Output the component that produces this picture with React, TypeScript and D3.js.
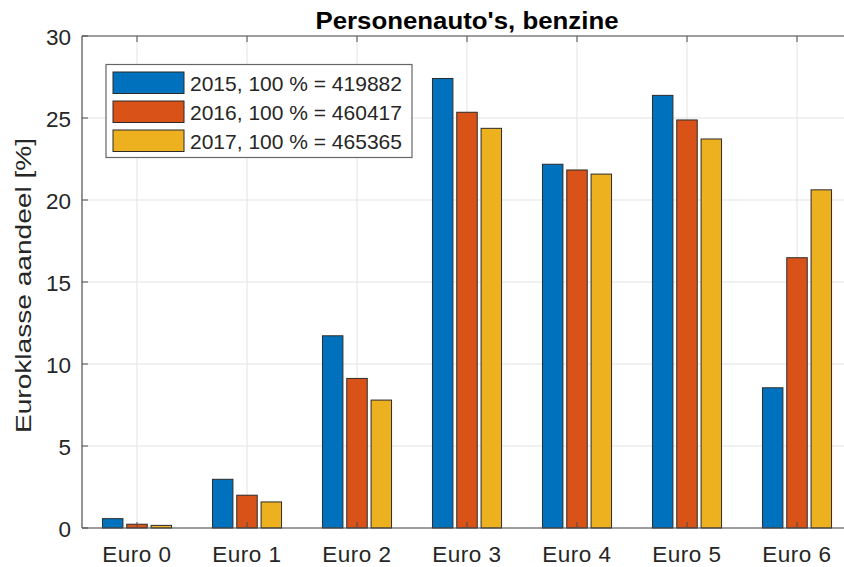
import React from "react";
import * as d3 from "d3";

const categories = ["Euro 0", "Euro 1", "Euro 2", "Euro 3", "Euro 4", "Euro 5", "Euro 6"];
const years = ["2015", "2016", "2017"];
const totals = [419882, 460417, 465365];
const values2015 = [0.57, 2.97, 11.72, 27.41, 22.18, 26.38, 8.55];
const values2016 = [0.23, 2.0, 9.12, 25.35, 21.83, 24.88, 16.48];
const values2017 = [0.16, 1.59, 7.8, 24.37, 21.58, 23.72, 20.62];
const yTicks = [0, 5, 10, 15, 20, 25, 30];
const colors = ["#0072BD", "#D95319", "#EDB120"];

const W = 844;
const H = 567;
const M = { left: 82, top: 36, bottom: 528, right: 852 };

export default function App() {
  const series = [values2015, values2016, values2017];
  const x = d3.scaleLinear().domain([0.5, 7.5]).range([M.left, M.right]);
  const y = d3.scaleLinear().domain([0, 30]).range([M.bottom, M.top]);
  const inner = d3.scalePoint<string>().domain(years).range([-0.221, 0.221]);
  const bw = x(0.186) - x(0);
  const axisColor = "#4d4d4d";
  const font = "'Liberation Sans', Arial, Helvetica, sans-serif";
  const tick = 6;

  return (
    <svg
      width={W}
      height={H}
      style={{ position: "absolute", left: 0, top: 0, background: "#fff" }}
      fontFamily={font}
    >
      <rect x={0} y={0} width={W} height={H} fill="#fff" />
      {/* grid */}
      {categories.map((c, i) => (
        <line key={"gx" + c} x1={x(i + 1)} x2={x(i + 1)} y1={M.top} y2={M.bottom} stroke="#e3e3e3" strokeWidth={1} />
      ))}
      {yTicks.map((t) => (
        <line key={"gy" + t} x1={M.left} x2={M.right} y1={y(t)} y2={y(t)} stroke="#e3e3e3" strokeWidth={1} />
      ))}
      {/* bars */}
      {series.map((vals, s) =>
        vals.map((v, i) => {
          const cx = x(i + 1 + (inner(years[s]) as number));
          return (
            <rect
              key={s + "-" + i}
              x={cx - bw / 2}
              y={y(v)}
              width={bw}
              height={y(0) - y(v)}
              fill={colors[s]}
              stroke="#2b2b2b"
              strokeWidth={1}
            />
          );
        })
      )}
      {/* axes box */}
      <line x1={M.left} x2={M.right} y1={M.top} y2={M.top} stroke={axisColor} strokeWidth={1.2} />
      <line x1={M.left} x2={M.right} y1={M.bottom} y2={M.bottom} stroke={axisColor} strokeWidth={1.2} />
      <line x1={M.left} x2={M.left} y1={M.top} y2={M.bottom} stroke={axisColor} strokeWidth={1.2} />
      <line x1={M.right} x2={M.right} y1={M.top} y2={M.bottom} stroke={axisColor} strokeWidth={1.2} />
      {/* x ticks */}
      {categories.map((c, i) => (
        <g key={"xt" + c}>
          <line x1={x(i + 1)} x2={x(i + 1)} y1={M.bottom} y2={M.bottom - tick} stroke={axisColor} strokeWidth={1} />
          <line x1={x(i + 1)} x2={x(i + 1)} y1={M.top} y2={M.top + tick} stroke={axisColor} strokeWidth={1} />
          <text x={x(i + 1)} y={561.5} textAnchor="middle" fontSize={22.5} letterSpacing={0.5} fill="#262626">
            {c}
          </text>
        </g>
      ))}
      {/* y ticks */}
      {yTicks.map((t) => (
        <g key={"yt" + t}>
          <line x1={M.left} x2={M.left + tick} y1={y(t)} y2={y(t)} stroke={axisColor} strokeWidth={1} />
          <line x1={M.right} x2={M.right - tick} y1={y(t)} y2={y(t)} stroke={axisColor} strokeWidth={1} />
          <text x={M.left - 11} y={y(t) + 8.5} textAnchor="end" fontSize={22.5} fill="#262626">
            {t}
          </text>
        </g>
      ))}
      {/* title */}
      <text
        x={(M.left + M.right) / 2}
        y={29}
        textAnchor="middle"
        fontSize={23}
        fontWeight="bold"
        fill="#000"
        textLength={303}
        lengthAdjust="spacingAndGlyphs"
      >
        Personenauto's, benzine
      </text>
      {/* y label */}
      <text
        transform={`translate(31, 285.5) rotate(-90)`}
        textAnchor="middle"
        fontSize={22}
        fill="#262626"
        textLength={295}
        lengthAdjust="spacingAndGlyphs"
      >
        Euroklasse aandeel [%]
      </text>
      {/* legend */}
      <rect x={106} y={64.5} width={306} height={93} fill="#fff" stroke="#666" strokeWidth={1.2} />
      {years.map((yr, s) => (
        <g key={"lg" + yr}>
          <rect x={113} y={72 + s * 29} width={71} height={21.5} fill={colors[s]} stroke="#2b2b2b" strokeWidth={1} />
          <text x={190} y={91 + s * 29} fontSize={21} fill="#262626">
            {`${yr}, 100 % = ${totals[s]}`}
          </text>
        </g>
      ))}
    </svg>
  );
}
